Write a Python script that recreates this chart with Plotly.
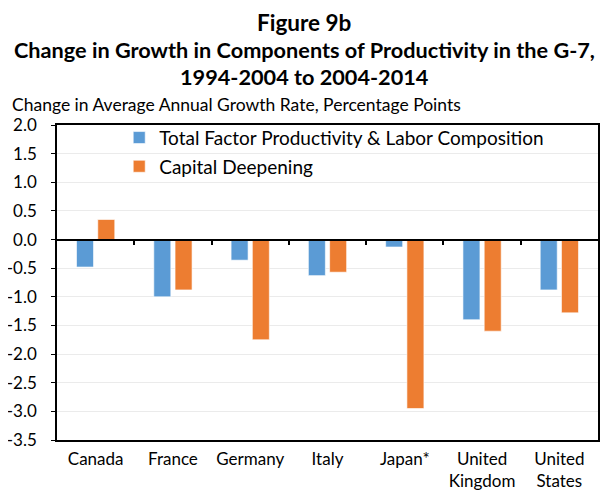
import plotly.graph_objects as go

countries = ["Canada", "France", "Germany", "Italy", "Japan*", "United<br>Kingdom", "United<br>States"]
tfp_labor = [-0.48, -1.00, -0.36, -0.63, -0.13, -1.40, -0.88]
capital_deepening = [0.35, -0.88, -1.75, -0.57, -2.95, -1.60, -1.28]
y_ticks = [2.0, 1.5, 1.0, 0.5, 0.0, -0.5, -1.0, -1.5, -2.0, -2.5, -3.0, -3.5]
y_tick_labels = ["2.0", "1.5", "1.0", "0.5", "0.0", "-0.5", "-1.0", "-1.5", "-2.0", "-2.5", "-3.0", "-3.5"]

FONT = "Lato"
BLUE = "#5B9BD5"
ORANGE = "#ED7D31"

fig = go.Figure()
fig.add_trace(go.Bar(
    x=countries, y=tfp_labor, name="Total Factor Productivity & Labor Composition",
    marker=dict(color=BLUE, line=dict(color="rgba(255,255,255,0.6)", width=1)),
    legendgroup="a",
))
fig.add_trace(go.Bar(
    x=countries, y=capital_deepening, name="Capital Deepening",
    marker=dict(color=ORANGE, line=dict(color="rgba(255,255,255,0.6)", width=1)),
    legendgroup="b",
))
# invisible trace on second x axis, used only for the category tick marks on the zero line
fig.add_trace(go.Scatter(x=[None], y=[None], xaxis="x2", showlegend=False, hoverinfo="skip"))

# page body has an 8px margin, so the figure is 8px smaller and shifted
fig.update_layout(
    width=600, height=483,
    margin=dict(l=49, r=10, t=117, b=51),
    paper_bgcolor="white", plot_bgcolor="white",
    font=dict(family=FONT, size=17, color="black"),
    barmode="group", bargap=0.45, bargroupgap=0.2,
    showlegend=True,
    legend=dict(x=0.115, y=1.02, xanchor="left", yanchor="top",
                bgcolor="rgba(0,0,0,0)", font=dict(size=19),
                traceorder="grouped", tracegroupgap=1),
    xaxis=dict(showgrid=False, showline=True, linecolor="black", linewidth=1.5,
               mirror=True, ticks="", tickfont=dict(size=17), automargin=False,
               ticklabelstandoff=3),
    xaxis2=dict(overlaying="x", anchor="free", position=3.5 / 5.5,
                range=[-0.5, 6.5], tickvals=[0.5, 1.5, 2.5, 3.5, 4.5, 5.5],
                showticklabels=False, ticks="outside", ticklen=5, tickwidth=1.5,
                tickcolor="black", showline=True, linecolor="black", linewidth=1.5,
                showgrid=False, zeroline=False, automargin=False),
    yaxis=dict(range=[-3.5, 2.0], tickvals=y_ticks, ticktext=y_tick_labels,
               showgrid=True, gridcolor="#ebebeb", gridwidth=1,
               showline=True, linecolor="black", linewidth=1.5, mirror=True,
               ticks="outside", ticklen=4, tickcolor="black", ticklabelstandoff=11,
               zeroline=False, tickfont=dict(size=17), automargin=False),
)

cx = (304 - 57) / 541
fig.add_annotation(text="<b>Figure 9b</b>", xref="paper", yref="paper", x=cx, y=1,
                   yanchor="middle", yshift=103, showarrow=False,
                   font=dict(size=22.5, family=FONT))
fig.add_annotation(text="<b>Change in Growth in Components of Productivity in the G-7,</b>",
                   xref="paper", yref="paper", x=cx, y=1, yanchor="middle", yshift=75,
                   showarrow=False, font=dict(size=21.7, family=FONT))
fig.add_annotation(text="<b>1994-2004 to 2004-2014</b>", xref="paper", yref="paper", x=cx, y=1,
                   yanchor="middle", yshift=48, showarrow=False,
                   font=dict(size=21.7, family=FONT))
fig.add_annotation(text="Change in Average Annual Growth Rate, Percentage Points",
                   xref="paper", yref="paper", x=0, y=1, xanchor="left", yanchor="middle",
                   xshift=-47, yshift=21, showarrow=False, font=dict(size=17.5, family=FONT))

fig.write_html("out.html")
